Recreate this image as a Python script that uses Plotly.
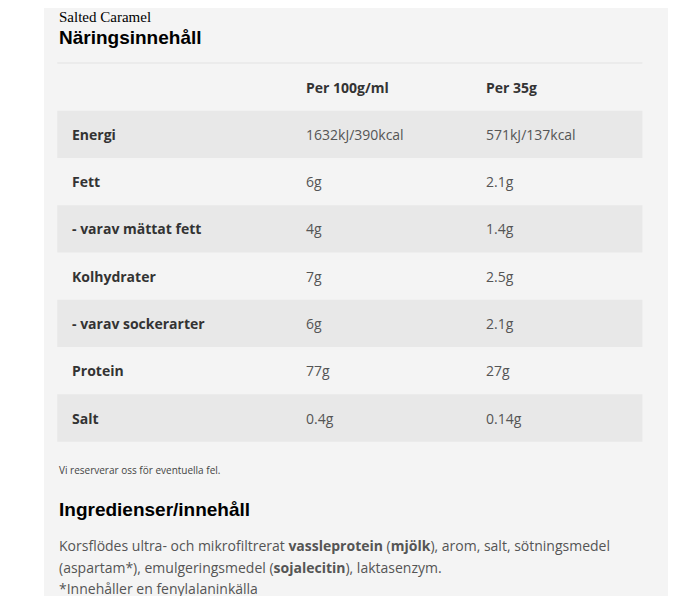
import plotly.graph_objects as go

labels = ["Energi", "Fett", "- varav mättat fett", "Kolhydrater", "- varav sockerarter", "Protein", "Salt"]
per100 = ["1632kJ/390kcal", "6g", "4g", "7g", "6g", "77g", "0.4g"]
per35 = ["571kJ/137kcal", "2.1g", "1.4g", "2.5g", "2.1g", "27g", "0.14g"]
headers = ["Per 100g/ml", "Per 35g"]

W, H = 696, 596
DX, DY = -9, -8
fig = go.Figure()
shapes = [dict(type="rect", x0=44 + DX, x1=652 + DX, y0=0 + DY, y1=H + 20, fillcolor="#f4f4f4", line_width=0, layer="below"),
          dict(type="line", x0=57 + DX, x1=627 + DX, y0=61.5 + DY, y1=61.5 + DY, line=dict(color="#e2e2e2", width=1))]
ann = []
def t(x, y, s, size=14, color="#444", family="Open Sans", bold=False):
    ann.append(dict(x=x + DX, y=y + DY, text=f"<b>{s}</b>" if bold else s, showarrow=False, xanchor="left", yanchor="middle",
                    font=dict(size=size, color=color, family=family)))

t(57, 17, "Salted Caramel", 15, "#000", "Liberation Serif")
t(57, 37, "Näringsinnehåll", 19, "#000", "Liberation Sans", True)
t(297, 85, headers[0], 14, "#333", bold=True)
t(473, 85, headers[1], 14, "#333", bold=True)
for i, (a, b, c) in enumerate(zip(labels, per100, per35)):
    top = 108 + 46 * i
    if i % 2 == 0:
        shapes.append(dict(type="rect", x0=57 + DX, x1=627 + DX, y0=top + DY, y1=top + 46 + DY, fillcolor="#e8e8e8", line_width=0, layer="below"))
    yc = top + 23
    t(69, yc, a, 14, "#333", bold=True)
    t(297, yc, b, 14, "#555")
    t(473, yc, c, 14, "#555")
t(57, 458, "Vi reserverar oss för eventuella fel.", 10, "#444")
t(57, 496, "Ingredienser/innehåll", 19, "#000", "Liberation Sans", True)
t(57, 531, "Korsflödes ultra- och mikrofiltrerat <b>vassleprotein</b> (<b>mjölk</b>), arom, salt, sötningsmedel", 14, "#555")
t(57, 552, "(aspartam*), emulgeringsmedel (<b>sojalecitin</b>), laktasenzym.", 14, "#555")
t(57, 573, "*Innehåller en fenylalaninkälla", 14, "#555")

fig.update_layout(width=W, height=H, margin=dict(l=0, r=0, t=0, b=0), paper_bgcolor="white", plot_bgcolor="white",
                  shapes=shapes, annotations=ann, showlegend=False,
                  xaxis=dict(range=[0, W - 18], visible=False, fixedrange=True),
                  yaxis=dict(range=[H - 16, 0], visible=False, fixedrange=True))
fig.write_html("out.html")
